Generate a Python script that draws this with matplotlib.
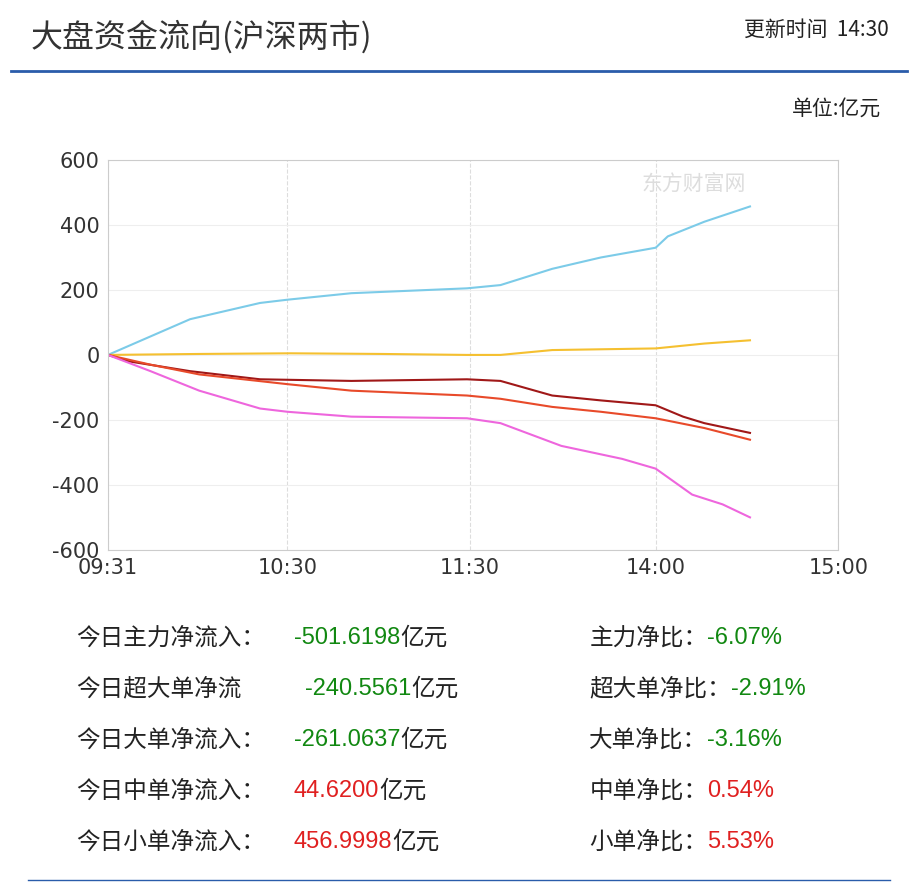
import matplotlib.pyplot as plt

plt.rcParams['font.family'] = 'Noto Sans CJK SC'
plt.rcParams['axes.unicode_minus'] = False

# minutes since 09:31 (lunch removed), values in 亿元
small_t = [0, 27, 50, 59, 80, 118, 129, 146, 162, 180, 184, 196, 211]
small_v = [0, 110, 160, 170, 190, 205, 215, 265, 300, 330, 365, 410, 457]
mid_t = [0, 30, 60, 90, 118, 129, 146, 180, 196, 211]
mid_v = [0, 3, 5, 3, 0, 0, 15, 20, 35, 45]
xl_t = [0, 7, 27, 50, 80, 118, 129, 146, 162, 180, 189, 196, 211]
xl_v = [0, -20, -50, -75, -80, -75, -80, -125, -140, -155, -190, -210, -240]
lg_t = [0, 14, 30, 59, 80, 118, 129, 146, 162, 180, 196, 211]
lg_v = [0, -30, -60, -90, -110, -125, -135, -160, -175, -195, -225, -261]
main_t = [0, 14, 30, 50, 59, 80, 118, 129, 149, 169, 180, 192, 202, 211]
main_v = [0, -50, -110, -165, -175, -190, -195, -210, -280, -320, -350, -430, -460, -500]

x_ticks = [0, 59, 119, 180, 240]
x_labels = ['09:31', '10:30', '11:30', '14:00', '15:00']
y_ticks = [-600, -400, -200, 0, 200, 400, 600]

rows = [('今日主力净流入：', '-501.6198', '主力净比：', '-6.07%', 'g'),
        ('今日超大单净流', '-240.5561', '超大单净比：', '-2.91%', 'g'),
        ('今日大单净流入：', '-261.0637', '大单净比：', '-3.16%', 'g'),
        ('今日中单净流入：', '44.6200', '中单净比：', '0.54%', 'r'),
        ('今日小单净流入：', '456.9998', '小单净比：', '5.53%', 'r')]

fig = plt.figure(figsize=(9.18, 8.84), dpi=100)
fig.text(0.033, 0.958, '大盘资金流向(沪深两市)', fontsize=23, color='#333333', va='center')
fig.text(0.968, 0.966, '更新时间  14:30', fontsize=15, color='#222222', va='center', ha='right')
fig.add_artist(plt.Line2D([0.012, 0.988], [0.920, 0.920], color='#2a5caa', lw=2))
fig.text(0.96, 0.877, '单位:亿元', fontsize=15, color='#222222', va='center', ha='right')

ax = fig.add_axes([0.1176, 0.378, 0.7955, 0.441])
ax.plot(small_t, small_v, color='#7ccbe8', lw=1.5)
ax.plot(mid_t, mid_v, color='#f5c030', lw=1.5)
ax.plot(xl_t, xl_v, color='#a01818', lw=1.5)
ax.plot(lg_t, lg_v, color='#e84a2a', lw=1.5)
ax.plot(main_t, main_v, color='#ee66dd', lw=1.5)
ax.set_xlim(0, 240)
ax.set_ylim(-600, 600)
ax.set_xticks(x_ticks, x_labels)
ax.set_yticks(y_ticks)
ax.tick_params(labelsize=15, colors='#333333', length=0, pad=6)
for lab in ax.get_xticklabels() + ax.get_yticklabels():
    lab.set_fontfamily('DejaVu Sans')
for s in ax.spines.values():
    s.set_color('#cccccc')
ax.grid(True, axis='x', color='#dddddd', ls='--', lw=0.8)
ax.grid(True, axis='y', color='#eeeeee', ls='-', lw=0.8)
ax.text(0.73, 0.92, '东方财富网', transform=ax.transAxes, fontsize=15, color='#dddddd')

for i, (a, b, c, d, col) in enumerate(rows):
    y = 1 - (638 + 51 * i) / 884
    color = '#118811' if col == 'g' else '#e02020'
    fig.text(0.083, y, a, fontsize=17, color='#222222', va='center')
    t = fig.text(0.32 if i != 1 else 0.332, y, b, fontsize=17, color=color, va='center',
                 family='Liberation Sans')
    ax.annotate('亿元', xy=(1, 0.5), xycoords=t, va='center', fontsize=17, color='#222222')
    t2 = fig.text(0.642, y, c, fontsize=17, color='#222222', va='center')
    ax.annotate(d, xy=(1, 0.5), xycoords=t2, va='center', fontsize=17, color=color,
                family='Liberation Sans')

fig.add_artist(plt.Line2D([0.03, 0.97], [0.005, 0.005], color='#2a5caa', lw=1))
fig.savefig('out.png', dpi=100)
